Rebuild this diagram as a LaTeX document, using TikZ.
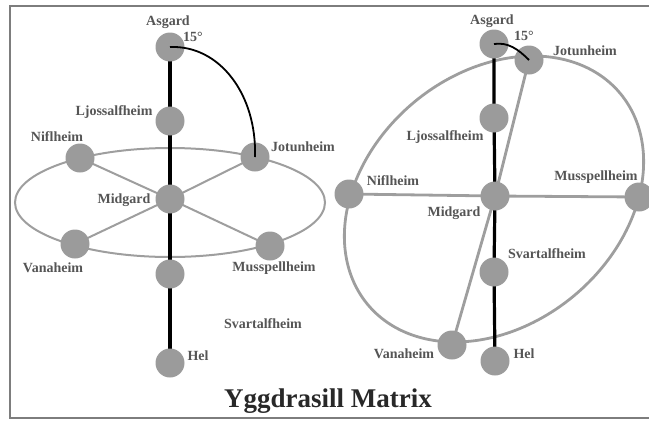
\documentclass[tikz,border=0pt]{standalone}
\usepackage{fontspec}
\setmainfont{Liberation Serif}
\usetikzlibrary{backgrounds}
\definecolor{ballgray}{RGB}{155,155,155}
\definecolor{ringgray}{RGB}{158,158,158}
\definecolor{labelgray}{RGB}{85,85,85}
\definecolor{framegray}{RGB}{125,125,125}
\definecolor{titlegray}{RGB}{40,40,40}
\begin{document}
\begin{tikzpicture}[x=1pt,y=-1pt,
  world/.style={circle,fill=ballgray,minimum size=29pt,inner sep=0pt},
  lbl/.style={font=\bfseries\fontsize{14}{14}\selectfont,text=labelgray,inner sep=0pt},
  ringthin/.style={draw=ringgray,line width=2pt},
  ringthick/.style={draw=ringgray,line width=2.8pt},
  trunk/.style={draw=black,line width=3.2pt},
  bow/.style={draw=black,line width=1.8pt}]
\useasboundingbox (0,0) rectangle (649,421);
% frame
\draw[framegray,line width=2pt] (649,6) -- (10,6) -- (10,418) -- (649,418);

% ---- first tree: flat ring ----
\node[world] (A1) at (170,47) {};
\node[world] (L1) at (170,121) {};
\node[world] (N1) at (80,158) {};
\node[world] (J1) at (255,157) {};
\node[world] (Mid1) at (170,199) {};
\node[world] (V1) at (75,244) {};
\node[world] (M1) at (270,246) {};
\node[world] (X1) at (170,274) {};
\node[world] (H1) at (170,363) {};

% ---- second tree: tilted ring ----
\node[world] (A2) at (494,44) {};
\node[world] (J2) at (529,60) {};
\node[world] (L2) at (494,118) {};
\node[world] (N2) at (349,194) {};
\node[world] (Mid2) at (495,196) {};
\node[world] (M2) at (639,197) {};
\node[world] (S2) at (494,272) {};
\node[world] (V2) at (452,345) {};
\node[world] (H2) at (495,361) {};

\begin{pgfonlayer}{background}
  \draw[ringthin] (170,202.5) ellipse [x radius=155, y radius=54.5];
  \draw[ringthin] (N1.center) -- (Mid1.center) -- (M1.center);
  \draw[ringthin] (J1.center) -- (Mid1.center) -- (V1.center);
  \draw[trunk] (A1.center) -- (L1.center) -- (Mid1.center) -- (X1.center) -- (H1.center);

  \draw[ringthick] plot[domain=0:360,samples=120,smooth]
     ({494+145*cos(\x)+37*sin(\x)},{199-2*cos(\x)-143*sin(\x)}) -- cycle;
  \draw[ringthick] (N2.center) -- (Mid2.center) -- (M2.center);
  \draw[ringthick] (J2.center) -- (Mid2.center) -- (V2.center);
  \draw[trunk] (A2.center) -- (L2.center) -- (Mid2.center) -- (S2.center) -- (H2.center);
\end{pgfonlayer}

% tilt arcs
\draw[bow] (A1.center) .. controls (220,45) and (257,95) .. (J1.center);
\draw[bow] (A2.center) .. controls (508,42) and (518,49) .. (J2.center);

% labels, first tree
\node[lbl] (tA1) at (168,22) {Asgard};
\node[lbl] (tD1) at (193,37) {15°};
\node[lbl] (tL1) at (114,112) {Ljossalfheim};
\node[lbl] (tN1) at (57,137) {Niflheim};
\node[lbl] (tJ1) at (303,147) {Jotunheim};
\node[lbl] (tMid1) at (124,200) {Midgard};
\node[lbl] (tV1) at (53,268) {Vanaheim};
\node[lbl] (tM1) at (274,268) {Musspellheim};
\node[lbl] (tS1) at (263,324) {Svartalfheim};
\node[lbl] (tH1) at (198,356) {Hel};

% labels, second tree
\node[lbl] (tA2) at (492,21) {Asgard};
\node[lbl] (tD2) at (524,36) {15°};
\node[lbl] (tJ2) at (585,51) {Jotunheim};
\node[lbl] (tL2) at (445,137) {Ljossalfheim};
\node[lbl] (tN2) at (393,181) {Niflheim};
\node[lbl] (tM2) at (596,177) {Musspellheim};
\node[lbl] (tMid2) at (454,213) {Midgard};
\node[lbl] (tS2) at (547,254) {Svartalfheim};
\node[lbl] (tV2) at (404,354) {Vanaheim};
\node[lbl] (tH2) at (524,354) {Hel};

% title
\node[font=\bfseries\fontsize{27}{27}\selectfont,text=titlegray,inner sep=0pt] (title) at (328,401) {Yggdrasill Matrix};
\end{tikzpicture}
\end{document}
